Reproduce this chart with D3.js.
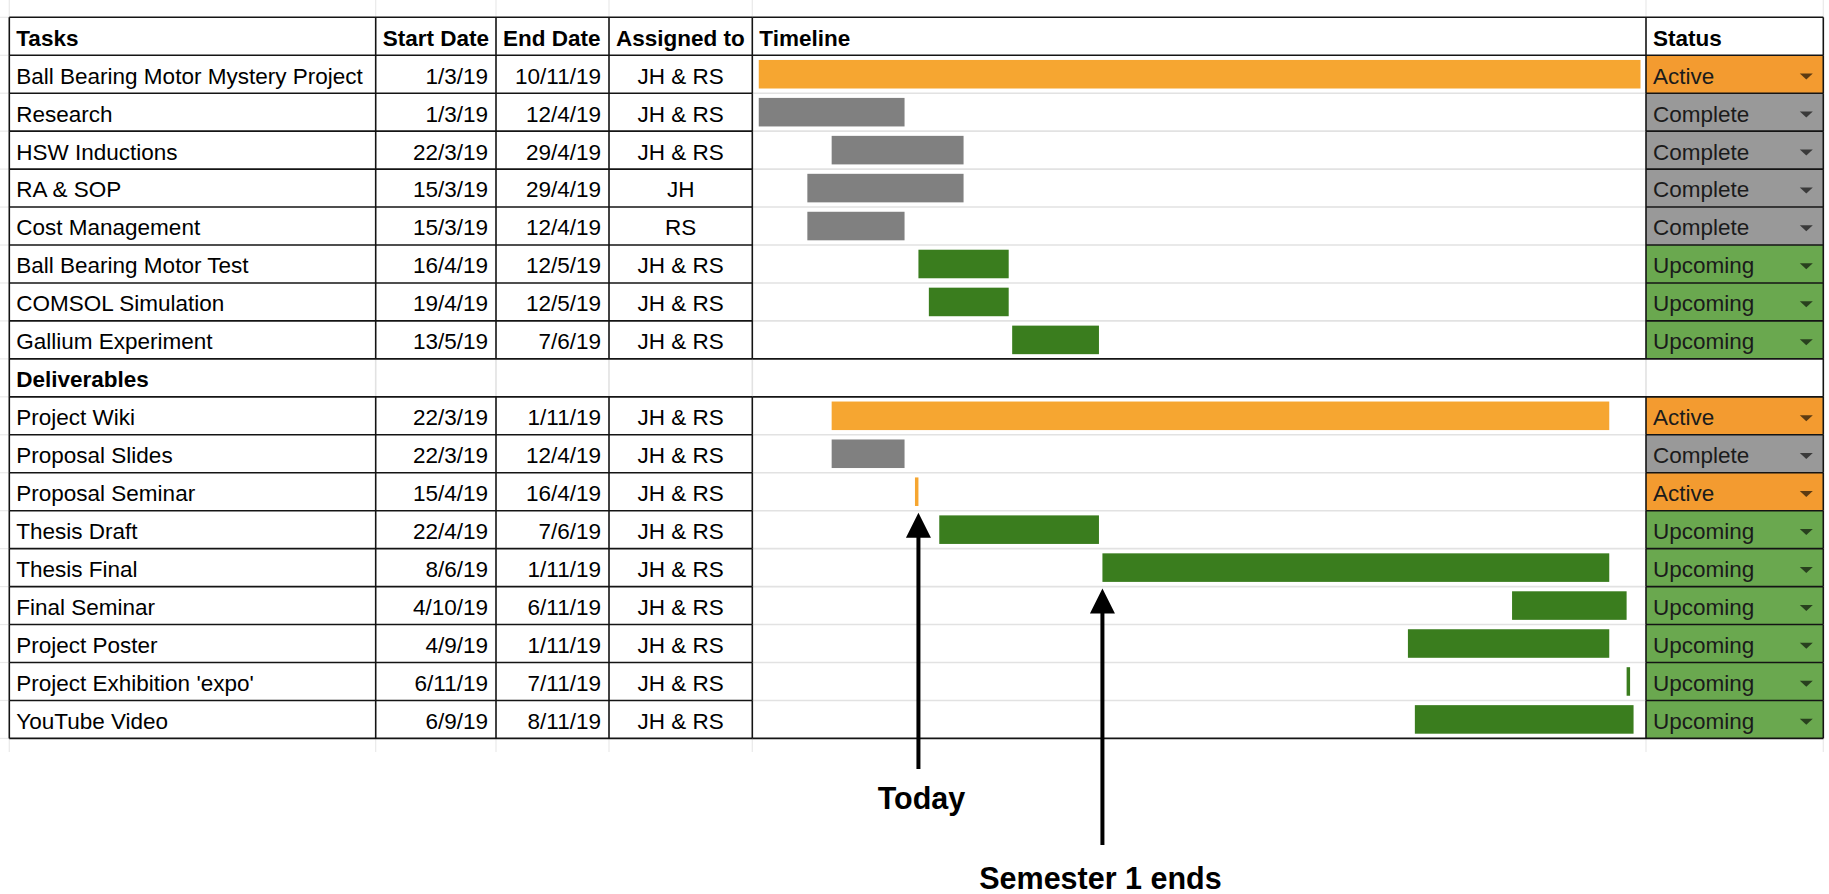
<!DOCTYPE html>
<html>
<head>
<meta charset="utf-8">
<script src="https://cdn.jsdelivr.net/npm/d3@7"></script>
<style>
  html, body { margin: 0; padding: 0; background: #ffffff; }
  svg { display: block; }
  text { font-family: "Liberation Sans", Arial, Helvetica, sans-serif; }
</style>
</head>
<body>
<svg id="chart" width="1829" height="894"></svg>
<script>
// ---- Data ----------------------------------------------------------------
const columnHeaders = ["Tasks", "Start Date", "End Date", "Assigned to", "Timeline", "Status"];

const taskNames    = ["Ball Bearing Motor Mystery Project", "Research", "HSW Inductions", "RA & SOP",
                      "Cost Management", "Ball Bearing Motor Test", "COMSOL Simulation", "Gallium Experiment"];
const taskStart    = ["1/3/19", "1/3/19", "22/3/19", "15/3/19", "15/3/19", "16/4/19", "19/4/19", "13/5/19"];
const taskEnd      = ["10/11/19", "12/4/19", "29/4/19", "29/4/19", "12/4/19", "12/5/19", "12/5/19", "7/6/19"];
const taskAssigned = ["JH & RS", "JH & RS", "JH & RS", "JH", "RS", "JH & RS", "JH & RS", "JH & RS"];
const taskStatus   = ["Active", "Complete", "Complete", "Complete", "Complete", "Upcoming", "Upcoming", "Upcoming"];

const sectionTitle = "Deliverables";

const delivNames    = ["Project Wiki", "Proposal Slides", "Proposal Seminar", "Thesis Draft", "Thesis Final",
                       "Final Seminar", "Project Poster", "Project Exhibition 'expo'", "YouTube Video"];
const delivStart    = ["22/3/19", "22/3/19", "15/4/19", "22/4/19", "8/6/19", "4/10/19", "4/9/19", "6/11/19", "6/9/19"];
const delivEnd      = ["1/11/19", "12/4/19", "16/4/19", "7/6/19", "1/11/19", "6/11/19", "1/11/19", "7/11/19", "8/11/19"];
const delivAssigned = ["JH & RS", "JH & RS", "JH & RS", "JH & RS", "JH & RS", "JH & RS", "JH & RS", "JH & RS", "JH & RS"];
const delivStatus   = ["Active", "Complete", "Active", "Upcoming", "Upcoming", "Upcoming", "Upcoming", "Upcoming", "Upcoming"];

// Milestone arrows: label, date, and the row the arrow points up to
const markerLabels  = ["Today", "Semester 1 ends"];
const markerDates   = ["16/4/19", "8/6/19"];
const markerAnchors = ["Proposal Seminar", "Thesis Final"];

// ---- Styles --------------------------------------------------------------
const barColor    = { Active: "#f6a631", Complete: "#808080", Upcoming: "#3a7d1e" };
const statusColor = { Active: "#f39b30", Complete: "#999999", Upcoming: "#6aa84f" };

// ---- Layout --------------------------------------------------------------
const colEdges = [9.3, 375.7, 496, 609, 752.3, 1646, 1823.3];
const tableTop = 17.3, tableBottom = 738.4;
const fontSize = 22.5;
const lineDark = "#141414", lineLight = "#e2e2e2", lineFaint = "#e9e9e9";

const parse = d3.utcParse("%d/%m/%y");

const makeRows = (names, start, end, who, status) => names.map((n, i) => ({
  type: "item", name: n, start: start[i], end: end[i], who: who[i], status: status[i],
  s: parse(start[i]), e: parse(end[i])
}));

const rows = [
  { type: "header" },
  ...makeRows(taskNames, taskStart, taskEnd, taskAssigned, taskStatus),
  { type: "section", name: sectionTitle },
  ...makeRows(delivNames, delivStart, delivEnd, delivAssigned, delivStatus)
];
const items = rows.filter(r => r.type === "item");

const svg = d3.select("#chart");

const y = d3.scaleBand().domain(d3.range(rows.length)).range([tableTop, tableBottom]).paddingInner(0);
const rh = y.bandwidth();
const baseline = i => y(i) + rh - 9.6;

const x = d3.scaleUtc()
  .domain([d3.min(items, d => d.s), d3.max(items, d => d.e)])
  .range([758.75, 1640.5]);

// ---- Faint sheet grid outside the table ----------------------------------
const faint = svg.append("g").attr("stroke", lineFaint).attr("stroke-width", 1.2);
colEdges.forEach(cx => {
  faint.append("line").attr("x1", cx).attr("x2", cx).attr("y1", 0).attr("y2", tableTop);
  faint.append("line").attr("x1", cx).attr("x2", cx).attr("y1", tableBottom).attr("y2", 752);
});
d3.range(rows.length + 1).forEach(k => {
  const yy = tableTop + k * rh;
  faint.append("line").attr("x1", 0).attr("x2", colEdges[0]).attr("y1", yy).attr("y2", yy);
});

// ---- Status cells --------------------------------------------------------
const statusG = svg.append("g");
rows.forEach((r, i) => {
  if (r.type !== "item") return;
  statusG.append("rect")
    .attr("x", colEdges[5]).attr("y", y(i))
    .attr("width", colEdges[6] - colEdges[5]).attr("height", rh)
    .attr("fill", statusColor[r.status]);
  statusG.append("text")
    .attr("x", colEdges[5] + 7).attr("y", baseline(i))
    .attr("font-size", fontSize).attr("fill", "#1b1b1b")
    .text(r.status);
  const tx = 1806.3, ty = y(i) + 18.3;
  statusG.append("path")
    .attr("d", `M${tx - 6.5},${ty} L${tx + 6.5},${ty} L${tx},${ty + 6} Z`)
    .attr("fill", "rgba(0,0,0,0.62)");
});

// ---- Timeline bars -------------------------------------------------------
const barInset = 4.7;
svg.append("g").selectAll("rect")
  .data(rows.map((r, i) => ({ r, i })).filter(d => d.r.type === "item"))
  .join("rect")
  .attr("x", d => x(d.r.s))
  .attr("y", d => y(d.i) + barInset)
  .attr("width", d => Math.max(1.5, x(d.r.e) - x(d.r.s)))
  .attr("height", rh - 2 * barInset)
  .attr("fill", d => barColor[d.r.status]);

// ---- Cell text -----------------------------------------------------------
const textG = svg.append("g").attr("font-size", fontSize).attr("fill", "#000");
rows.forEach((r, i) => {
  const b = baseline(i);
  if (r.type === "header") {
    columnHeaders.forEach((h, c) => {
      textG.append("text").attr("x", colEdges[c] + 7).attr("y", b)
        .attr("font-weight", "bold").text(h);
    });
  } else if (r.type === "section") {
    textG.append("text").attr("x", colEdges[0] + 7).attr("y", b)
      .attr("font-weight", "bold").text(r.name);
  } else {
    textG.append("text").attr("x", colEdges[0] + 7).attr("y", b).text(r.name);
    textG.append("text").attr("x", colEdges[2] - 8).attr("y", b)
      .attr("text-anchor", "end").text(r.start);
    textG.append("text").attr("x", colEdges[3] - 8).attr("y", b)
      .attr("text-anchor", "end").text(r.end);
    textG.append("text").attr("x", (colEdges[3] + colEdges[4]) / 2).attr("y", b)
      .attr("text-anchor", "middle").text(r.who);
  }
});

// ---- Table rules ---------------------------------------------------------
const sectionIdx = rows.findIndex(r => r.type === "section");
const lightRules = svg.append("g").attr("stroke", lineLight).attr("stroke-width", 1.6);
const darkRules  = svg.append("g").attr("stroke", lineDark).attr("stroke-width", 1.6);

d3.range(rows.length + 1).forEach(k => {
  const yy = tableTop + k * rh;
  // left-hand data columns: always dark
  darkRules.append("line").attr("x1", colEdges[0]).attr("x2", colEdges[4]).attr("y1", yy).attr("y2", yy);
  // timeline column: dark only on table frame, header, and section row
  const timelineDark = k === 0 || k === 1 || k === sectionIdx || k === sectionIdx + 1 || k === rows.length;
  (timelineDark ? darkRules : lightRules).append("line")
    .attr("x1", colEdges[4]).attr("x2", colEdges[5]).attr("y1", yy).attr("y2", yy);
  // status column: dark
  darkRules.append("line").attr("x1", colEdges[5]).attr("x2", colEdges[6]).attr("y1", yy).attr("y2", yy);
});

rows.forEach((r, i) => {
  colEdges.forEach((cx, c) => {
    const outer = c === 0 || c === colEdges.length - 1;
    const g = (r.type === "section" && !outer) ? lightRules : darkRules;
    g.append("line").attr("x1", cx).attr("x2", cx).attr("y1", y(i)).attr("y2", y(i) + rh);
  });
});

// ---- Milestone arrows ----------------------------------------------------
const lineEnds  = [769, 845];
const labelBase = [808.5, 888.5];
const arrowG = svg.append("g");
markerLabels.forEach((label, m) => {
  const mx = x(parse(markerDates[m]));
  const rowIdx = rows.findIndex(r => r.name === markerAnchors[m]);
  const tipY = y(rowIdx) + rh + 2;
  const headH = 25, headW = 25;
  arrowG.append("line")
    .attr("x1", mx).attr("x2", mx).attr("y1", tipY + headH - 2).attr("y2", lineEnds[m])
    .attr("stroke", "#000").attr("stroke-width", 4);
  arrowG.append("path")
    .attr("d", `M${mx},${tipY} L${mx + headW / 2},${tipY + headH} L${mx - headW / 2},${tipY + headH} Z`)
    .attr("fill", "#000");
  arrowG.append("text")
    .attr("x", mx + (m === 0 ? 3 : -2)).attr("y", labelBase[m])
    .attr("text-anchor", "middle").attr("font-weight", "bold")
    .attr("font-size", 30.5).attr("fill", "#000")
    .text(label);
});
</script>
</body>
</html>
